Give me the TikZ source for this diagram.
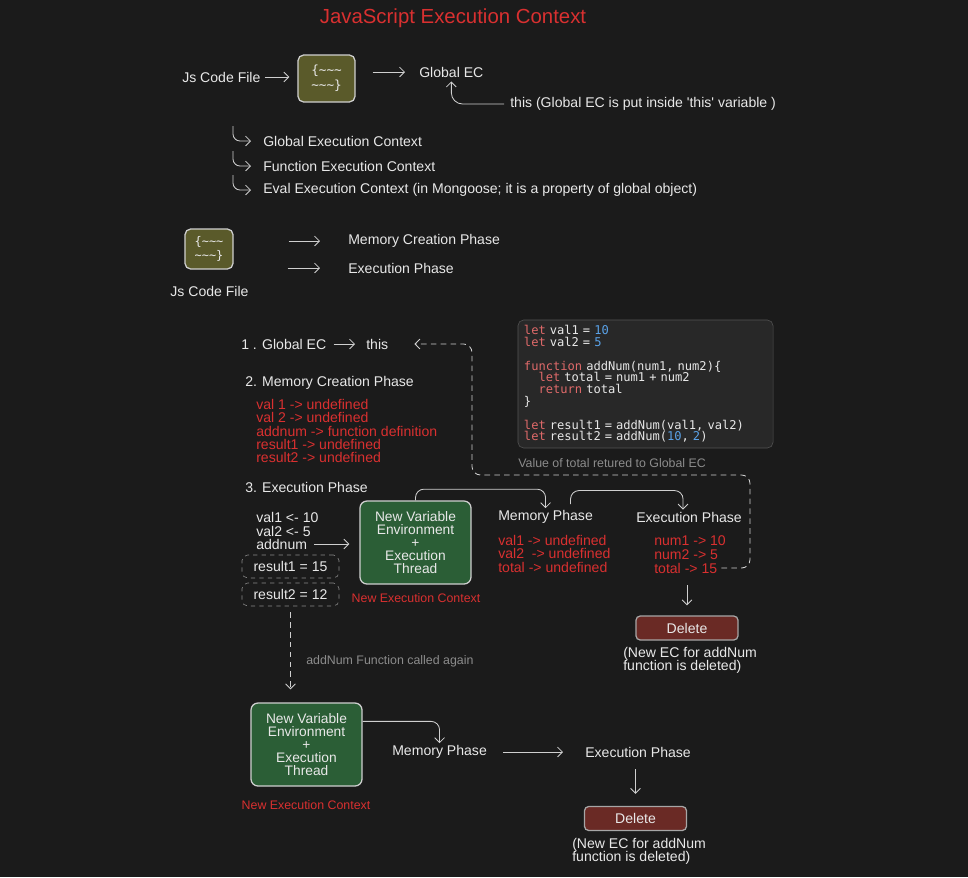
\documentclass[tikz,border=0pt]{standalone}
\usepackage{fontspec}
\setmainfont{Liberation Sans}
\setmonofont{DejaVu Sans Mono}
\usetikzlibrary{
  arrows.meta,
  calc,
  positioning
}

\definecolor{bgc}{HTML}{1B1B1B}
\definecolor{fgc}{HTML}{E8E8E8}
\definecolor{linec}{HTML}{CFCFCF}
\definecolor{dimc}{HTML}{8C8C8C}
\definecolor{redc}{HTML}{D93030}
\definecolor{olivec}{HTML}{5A5A2A}
\definecolor{greenc}{HTML}{2B5E36}
\definecolor{delc}{HTML}{6A2A25}
\definecolor{codebg}{HTML}{282828}
\definecolor{codered}{HTML}{E06A6A}
\definecolor{codeblue}{HTML}{5AA2E8}

\newcommand{\tl}{\textasciitilde}
\newcommand{\kw}[1]{\textcolor{codered}{#1}}
\newcommand{\nm}[1]{\textcolor{codeblue}{#1}}

\begin{document}
\begin{tikzpicture}[x=0.025cm, y=-0.025cm,
  txt/.style={anchor=west, inner sep=0pt, text=fgc, font=\fontsize{10}{11}\selectfont},
  redtxt/.style={txt, text=redc, align=left, font=\fontsize{10}{9.5}\selectfont},
  smallred/.style={inner sep=0pt, text=redc, font=\fontsize{8.8}{10}\selectfont},
  dimtxt/.style={txt, text=dimc, font=\fontsize{8.8}{10}\selectfont},
  arr/.style={draw=linec, semithick, -{Straight Barb[length=3.5pt,width=7pt]}},
  dasharr/.style={arr, dash pattern=on 4pt off 3pt},
  codefile/.style={draw=linec, line width=0.9pt, fill=olivec, rounded corners=4pt,
    align=center, text=fgc, font=\ttfamily\fontsize{9}{10.5}\selectfont},
  ecbox/.style={draw=linec, line width=0.9pt, fill=greenc, rounded corners=5pt,
    minimum width=2.775cm, minimum height=2.075cm, align=center, text=fgc,
    inner sep=2pt, font=\fontsize{9.8}{9.2}\selectfont},
  delbox/.style={draw=linec!80!black, line width=0.9pt, fill=delc, rounded corners=3pt,
    minimum width=2.55cm, minimum height=0.6cm, inner sep=0pt, text=fgc,
    font=\fontsize{10}{11}\selectfont},
  resbox/.style={draw=dimc, dashed, rounded corners=4pt, minimum width=2.425cm,
    minimum height=0.575cm, inner sep=0pt, text=fgc, font=\fontsize{10}{11}\selectfont},
  codebox/.style={draw=codebg!80!white, fill=codebg, rounded corners=4pt,
    text width=6.075cm, inner xsep=0.15cm, minimum height=3.2cm, align=left,
    text=fgc, font=\ttfamily\fontsize{8.6}{8.4}\selectfont}]

  \fill[bgc] (0,0) rectangle (968,877);

  % title
  \node[font=\fontsize{14.5}{16}\selectfont, text=redc] (title) at (453,18)
  {JavaScript Execution Context};

  % first row
  \node[txt] (jsfile1) at (182,77) {Js Code File};
  \node[codefile, minimum width=1.425cm, minimum height=1.175cm] (code1) at (326.5,78.5)
  {\{\tl\tl\tl\\\tl\tl\tl\}};
  \node[txt] (globalec) at (419,72) {Global EC};
  \node[txt] (thisnote) at (510,104)
  {this (Global EC is put inside \textquotesingle this\textquotesingle\ variable )};

  \draw[arr, shorten <=0.1cm, shorten >=0.2cm] (jsfile1.east) -- (jsfile1.east -| code1.west);
  \draw[arr, shorten <=0.425cm, shorten >=0.35cm] (code1.east |- globalec.west) -- (globalec.west);
  \draw[arr, rounded corners=8pt, shorten <=0.15cm, shorten >=0.1cm] (thisnote.west) -| (globalec.south);

  % kinds of EC
  \node[txt] (gec) at (263,141) {Global Execution Context};
  \node[txt] (fec) at (263,166) {Function Execution Context};
  \node[txt] (eec) at (263,190)
  {Eval Execution Context (in Mongoose; it is a property of global object)};
  \foreach \n in {gec,fec,eec} {
      \draw[arr, rounded corners=5pt] ($(\n.west)+(-30,-15)$) |- ($(\n.west)+(-12,0)$);
    }

  % phases
  \node[codefile, minimum width=1.2cm, minimum height=1cm,
    font=\ttfamily\fontsize{8.5}{10}\selectfont] (code2) at (209,249)
  {\{\tl\tl\tl\\\tl\tl\tl\}};
  \node[txt, anchor=center] (jsfile2) at (209.5,291) {Js Code File};
  \node[txt] (mcp0) at (348,241) {Memory Creation Phase};
  \node[txt] (ep0) at (348,268) {Execution Phase};
  \draw[arr, shorten <=1.375cm, shorten >=0.7cm] (code2.east |- mcp0.west) -- (mcp0.west);
  \draw[arr, shorten <=1.35cm, shorten >=0.7cm] (code2.east |- ep0.west) -- (ep0.west);

  % code
  \node[codebox] (code) at (645.5,384) {%
    \kw{let} val1 = \nm{10}\\
    \kw{let} val2 = \nm{5}\\[8.4pt]
    \kw{function} addNum(num1, num2)\{\\
    \phantom{xx}\kw{let} total = num1 + num2\\
    \phantom{xx}\kw{return} total\\
    \}\\[8.4pt]
    \kw{let} result1 = addNum(val1, val2)\\
    \kw{let} result2 = addNum(\nm{10}, \nm{2})};
  \node[dimtxt] (retnote) at (518,463) {Value of total retured to Global EC};

  % global EC
  \node[txt] (glob1) at (241,344) {1 . Global EC};
  \node[txt] (this1) at (366,344) {this};
  \draw[arr, shorten <=0.175cm, shorten >=0.275cm] (glob1.east) -- (this1.west);

  \node[txt] (mcp) at (245,383) {2. Memory Creation Phase};
  \node[redtxt, anchor=north west] (memlist) at (256,399)
  {val 1 -> undefined\\val 2 -> undefined\\addnum -> function definition\\result1 -> undefined\\result2 -> undefined};

  \node[txt] (ep) at (245,487) {3. Execution Phase};
  \node[txt] (v1) at (256,517) {val1 <- 10};
  \node[txt] (v2) at (256,531) {val2 <- 5};
  \node[txt] (addnum) at (256,544) {addnum};
  \node[resbox] (res1) at (290.5,566.5) {result1 = 15};
  \node[resbox] (res2) at (290.5,594.5) {result2 = 12};

  % first function call
  \node[ecbox] (gbox1) at (415.5,542.5) {New Variable\\Environment\\+\\Execution\\Thread};
  \node[smallred] (nec1) at (416,598) {New Execution Context};
  \draw[arr, shorten <=0.175cm, shorten >=0.25cm] (addnum.east) -- (addnum.east -| gbox1.west);

  \node[txt] (memph) at (498,517) {Memory Phase};
  \node[txt] (execph) at (636,517) {Execution Phase};
  \node[redtxt, anchor=north west] (memlist2) at (498,535)
  {val1 -> undefined\\val2 \ -> undefined\\total -> undefined};
  \node[redtxt] (n1) at (654,541) {num1 -> 10};
  \node[redtxt] (n2) at (654,555) {num2 -> 5};
  \node[redtxt] (tot15) at (654,568) {total -> 15};

  \draw[arr, rounded corners=6pt, shorten >=0.05cm]
  (gbox1.north) |- ($(memph.north)+(0,-21)$) -- (memph.north);
  \draw[arr, rounded corners=6pt, shorten >=0.05cm]
  ($(memph.north)+(25,-6)$) |- ($(execph.north)+(-6,-21)$) -- ($(execph.north)+(-6,0)$);

  % value returned
  \coordinate (retA) at (750,475);
  \coordinate (retB) at (472,475);
  \draw[dasharr, rounded corners=6pt, shorten <=0.1cm, shorten >=0.65cm]
  (tot15.east) -| (retA) -- (retB) |- (this1.east);

  \coordinate (d1top) at (687,585);
  \node[delbox] (del1) at (687,628) {Delete};
  \draw[arr, shorten >=0.25cm] (d1top) -- (del1);
  \node[txt, anchor=north west, align=left, font=\fontsize{10}{9.4}\selectfont] (note1) at (623,647)
  {(New EC for addNum\\function is deleted)};

  % second function call
  \node[ecbox] (gbox2) at (306.5,744.5) {New Variable\\Environment\\+\\Execution\\Thread};
  \node[smallred] (nec2) at (306,805) {New Execution Context};
  \draw[dasharr, shorten <=0.15cm, shorten >=0.325cm] (res2.south) -- (res2.south |- gbox2.north);
  \node[dimtxt] (again) at (306,661) {addNum Function called again};

  \node[txt] (memph2) at (392,752) {Memory Phase};
  \node[txt] (execph2) at (585,752) {Execution Phase};
  \draw[arr, rounded corners=6pt, shorten >=0.05cm]
  ($(gbox2.north east)+(0,19)$) -| (memph2.north);
  \draw[arr, shorten <=0.4cm, shorten >=0.55cm] (memph2.east) -- (execph2.west);

  \node[delbox] (del2) at (635.5,818.5) {Delete};
  \draw[arr, shorten <=0.3cm, shorten >=0.3cm] (execph2.south -| del2.north) -- (del2.north);
  \node[txt, anchor=north west, align=left, font=\fontsize{10}{9.4}\selectfont] (note2) at (572,838)
  {(New EC for addNum\\function is deleted)};
\end{tikzpicture}
\end{document}
